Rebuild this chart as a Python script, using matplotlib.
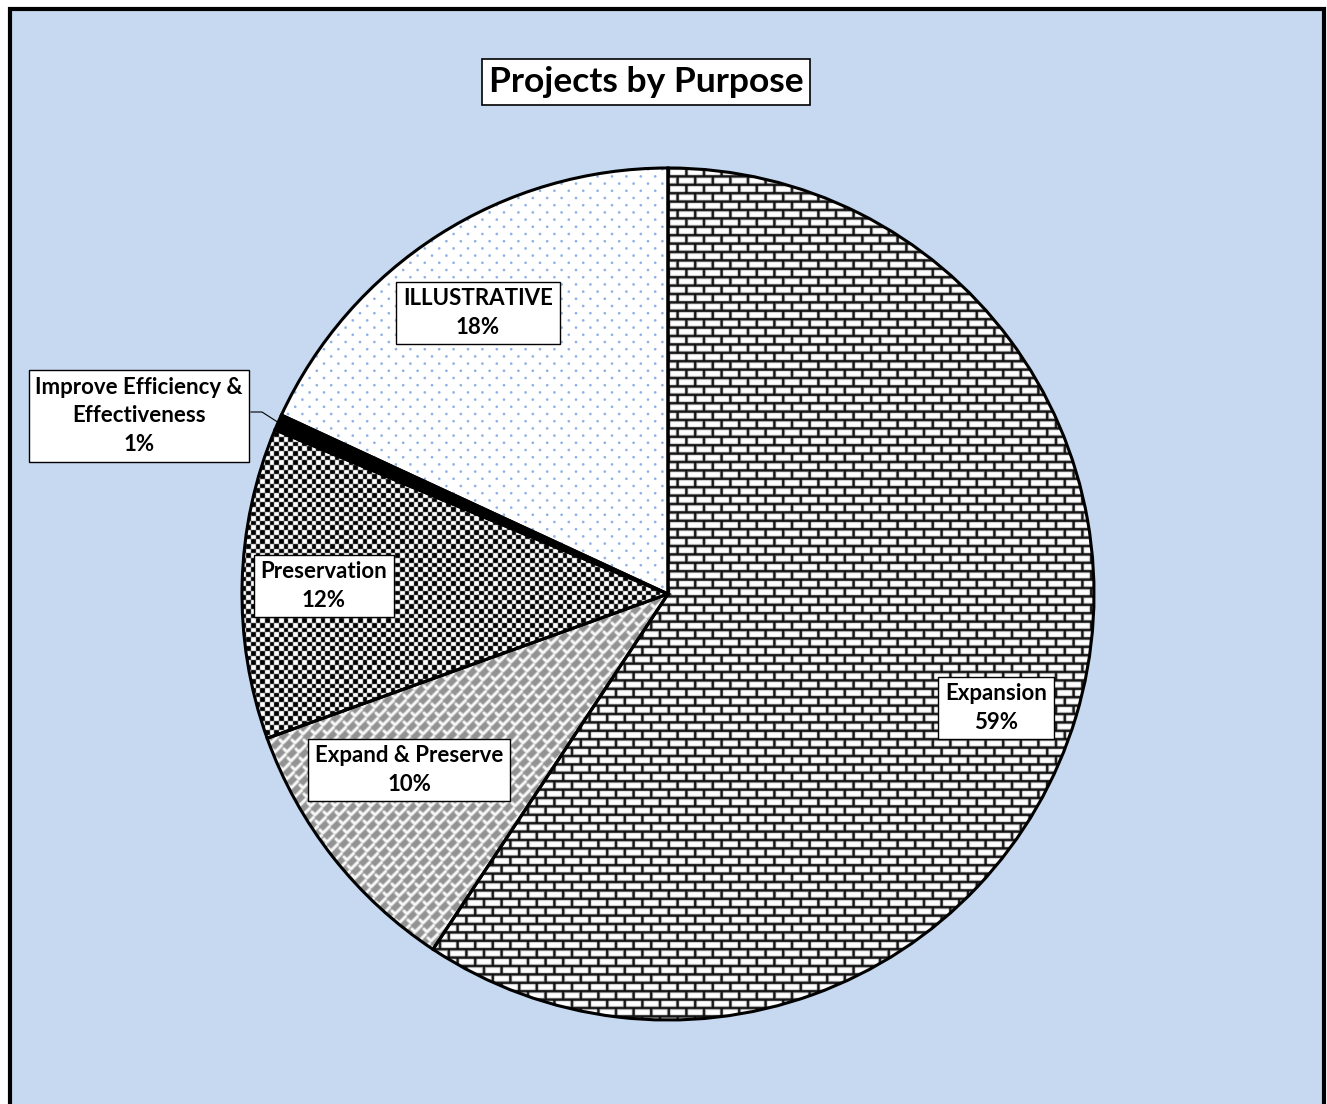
#!/usr/bin/env python3
"""
Projects by purpose pie chart with Excel-style pattern fills.
"""
import numpy as np
import matplotlib
matplotlib.use('Agg')
import matplotlib.pyplot as plt
from matplotlib.patches import Rectangle

W, H = 1327, 1104

categories = ['Expansion', 'Expand & Preserve', 'Preservation',
              'Improve Efficiency &\nEffectiveness', 'ILLUSTRATIVE']
shares = [59.3, 10.2, 11.8, 0.6, 18.1]
fills = ['brick', 'weave', 'checker', 'solid', 'dots']

# label box centres, pixel coords (y up)
label_pos = [(996, 396), (409, 334), (324, 518), (139, 688), (478, 791)]

plt.rcParams['font.family'] = ['Lato', 'DejaVu Sans']

yy, xx = np.mgrid[0:H, 0:W] + 0.5


def cover(d, half):
    return np.clip(half - d + 0.5, 0, 1)


def blur(a):
    out = a.copy()
    out[1:-1, 1:-1] = (a[1:-1, 1:-1] * 4 + a[:-2, 1:-1] + a[2:, 1:-1]
                       + a[1:-1, :-2] + a[1:-1, 2:]) / 8
    return out


def seg_dist(px, py, x0, y0, x1, y1):
    vx, vy = x1 - x0, y1 - y0
    t = np.clip(((px - x0) * vx + (py - y0) * vy) / (vx * vx + vy * vy), 0, 1)
    return np.hypot(px - x0 - t * vx, py - y0 - t * vy)


def brick():
    row_h, brick_w = 8.4, 17.6
    ry = yy % row_h
    dh = np.minimum(ry, row_h - ry)
    row = np.floor(yy / row_h)
    xs = xx + (row % 2) * brick_w / 2
    rx = xs % brick_w
    dv = np.minimum(rx, brick_w - rx)
    ink = np.maximum(cover(dh, 1.3), cover(dv, 1.3))
    g = blur(1 - 0.95 * ink)
    return np.dstack([g, g, g])


def checker():
    s = 4.65
    on = ((np.floor(xx / s) + np.floor(yy / s)) % 2 == 0)
    g = blur(np.where(on, 0.0, 1.0))
    return np.dstack([g, g, g])


def weave():
    # chained check-mark strokes on a grey ground
    px, py, shift = 12.0, 9.0, 4.0
    row = np.floor(yy / py)
    u = (xx - row * shift) % px
    v = yy % py
    segs = [(0.0, 2.0, 3.0, 5.0), (3.0, 5.0, 9.5, -1.5)]
    d = np.full(xx.shape, 99.0)
    for ox in (-px, 0.0, px):
        for oy, os in ((-py, -shift), (0.0, 0.0), (py, shift)):
            for x0, y0, x1, y1 in segs:
                d = np.minimum(d, seg_dist(u, v, x0 + ox + os, y0 + oy,
                                           x1 + ox + os, y1 + oy))
    g = 0.58 + 0.4 * cover(d, 1.5)
    g = blur(g)
    return np.dstack([g, g, g])


def dots():
    px, ph = 14.4, 7.2
    row = np.floor(yy / ph)
    xs = xx + (row % 2) * px / 2
    dx = (xs % px) - px / 2
    dy = (yy % ph) - ph / 2
    c = np.clip(1.8 - np.hypot(dx, dy), 0, 1)
    dot = np.array([0.56, 0.70, 0.90])
    return 1 - c[..., None] * (1 - dot)


textures = {'brick': brick, 'checker': checker, 'weave': weave, 'dots': dots}

fig = plt.figure(figsize=(W / 100, H / 100), dpi=100)
ax = fig.add_axes([0, 0, 1, 1])

# chart area with thick black border (runs off the bottom)
ax.add_patch(Rectangle((9.5, -20), 1314, 1104 - 9 + 20, facecolor='#C6D9F0',
                       edgecolor='black', linewidth=3, zorder=0))

wedges, _ = ax.pie(shares, startangle=90, counterclock=False,
                   center=(668, 510), radius=426,
                   wedgeprops=dict(facecolor='none', edgecolor='black',
                                   linewidth=2.2, zorder=3))

for w, fill in zip(wedges, fills):
    if fill == 'solid':
        w.set_facecolor('black')
        continue
    im = ax.imshow(textures[fill](), extent=(0, W, 0, H), origin='upper',
                   interpolation='nearest', zorder=2)
    im.set_clip_path(w)

for name, v, (x, y) in zip(categories, shares, label_pos):
    ax.text(x, y, f'{name}\n{round(v)}%', ha='center', va='center',
            fontsize=16, fontweight='bold', linespacing=1.45, zorder=6,
            bbox=dict(boxstyle='square,pad=0.3', facecolor='white',
                      edgecolor='black', linewidth=1))

# leader from the small slice to its label
w = wedges[3]
mid = np.deg2rad((w.theta1 + w.theta2) / 2)
ex, ey = 668 + 426 * np.cos(mid), 510 + 426 * np.sin(mid)
ax.plot([251, 262, ex], [692, 692, ey], color='black', lw=0.8, zorder=5)

ax.text(646, 1022, 'Projects by Purpose', ha='center', va='center',
        fontsize=25.5, fontweight='bold', zorder=6,
        bbox=dict(boxstyle='square,pad=0.2', facecolor='white',
                  edgecolor='black', linewidth=1.2))

ax.set_xlim(0, W)
ax.set_ylim(0, H)
ax.set_aspect('auto')
ax.axis('off')

fig.savefig('out.png', dpi=100, facecolor='white')
